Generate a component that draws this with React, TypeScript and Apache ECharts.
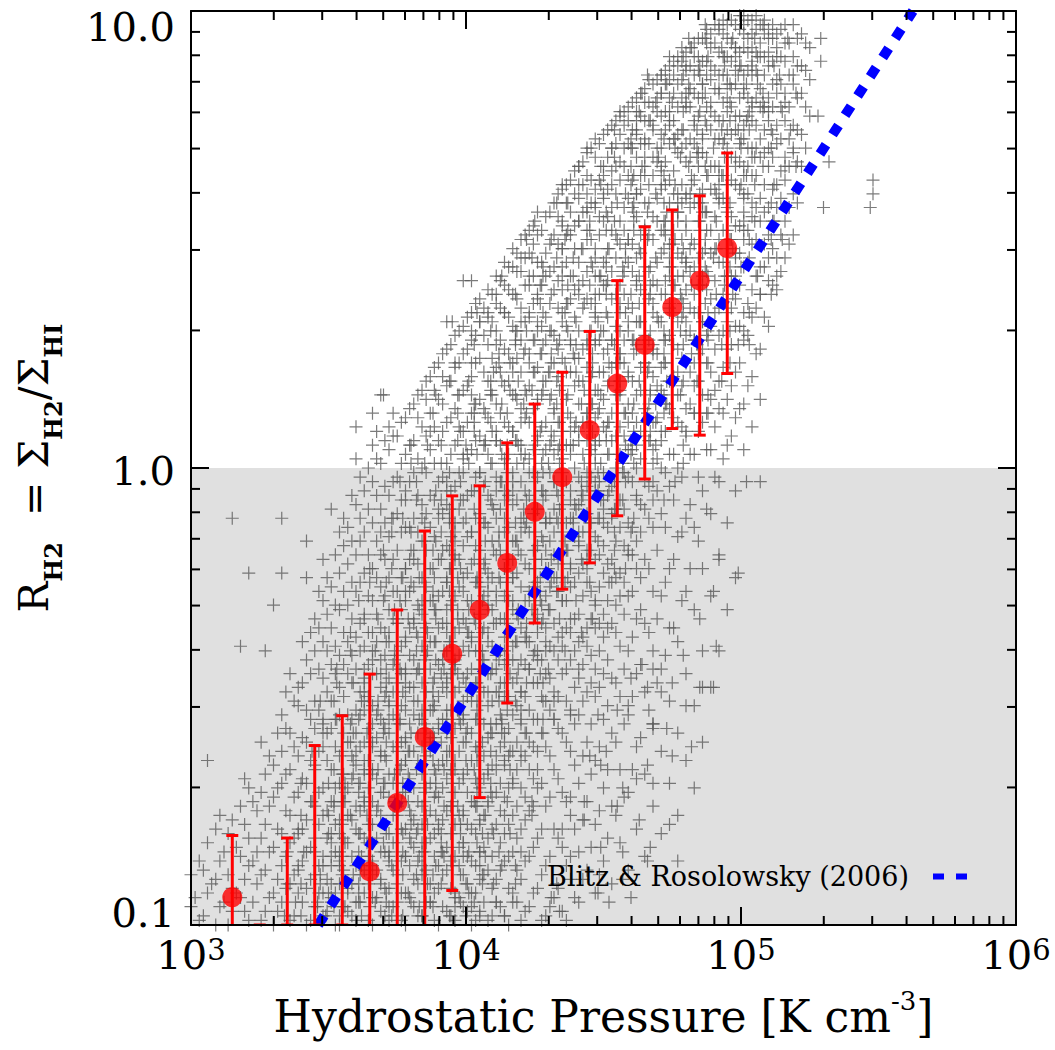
import React, { useEffect, useRef } from "react";
import * as echarts from "echarts";

// ---------------- data ----------------
// binned medians (red points) with lower / upper error bar ends
const binP = [1413, 1778, 2239, 2818, 3548, 4467, 5623, 7079, 8913, 11220, 14125, 17783, 22387, 28184, 35481, 44668, 56234, 70795, 89125];
const binMedian = [0.115, 0.085, 0.09, 0.09, 0.09, 0.131, 0.185, 0.258, 0.392, 0.489, 0.62, 0.802, 0.955, 1.21, 1.53, 1.86, 2.25, 2.57, 3.03];
const binLow = [0.06, 0.05, 0.1, 0.1, 0.1, 0.05, 0.06, 0.07, 0.119, 0.19, 0.306, 0.458, 0.543, 0.62, 0.786, 0.946, 1.22, 1.18, 1.61];
const binHigh = [0.157, 0.1, 0.155, 0.247, 0.287, 0.354, 0.489, 0.728, 0.869, 0.914, 1.135, 1.38, 1.62, 1.99, 2.57, 3.37, 3.67, 3.94, 4.89];

// Blitz & Rosolowsky (2006) relation, end points
const brP = [2900, 422000];
const brR = [0.1, 10];
const BR_NAME = "Blitz & Rosolowsky (2006)";

// grey "+" cloud, part 1: columns of log10(P)*100 with their log10(R)*100 values
const cloudLogP100 = [300, 303, 306, 309, 312, 315, 318, 321, 324, 327, 330, 333, 336, 339, 342, 345, 348, 351, 354, 357, 360, 363, 366, 369, 372, 375, 378, 381, 384, 387, 390, 393, 396, 399, 402, 405, 408, 411, 414, 417, 420, 423, 426, 429, 432, 435, 438, 441, 444, 447, 450, 453, 456, 459, 462, 465, 468, 471, 474, 477, 480, 483, 486, 489, 492, 495, 498, 501, 504, 507, 510, 513, 516, 519, 522, 525];
const cloudLogR100 = [
  [-96, -89],
  [-99, -86],
  [-93, -82, -64],
  [-100, -90, -79],
  [-95, -84],
  [-97, -92, -77, -11],
  [-94, -85, -74, -39],
  [-99, -87, -81, -70, -23],
  [-91, -84, -75],
  [-97, -88, -78, -67, -40],
  [-100, -93, -83, -72, -65, -30],
  [-95, -87, -80, -69, -62, -54, -23, -11],
  [-99, -91, -82, -76, -66, -58, -45],
  [-93, -88, -79, -71, -63, -52, -48],
  [-100, -92, -84, -77, -69, -60, -53, -42, -24, -16],
  [-96, -89, -81, -74, -65, -57, -51, -40, -33],
  [-98, -93, -85, -76, -70, -61, -56, -46, -38, -29, -20],
  [-94, -87, -80, -73, -66, -57, -51, -43, -35, -26, -9],
  [-100, -91, -86, -77, -69, -63, -54, -48, -41, -31, -23, -14],
  [-97, -92, -82, -76, -70, -60, -54, -45, -38, -30, -21, -13],
  [-99, -95, -87, -79, -74, -65, -58, -53, -44, -37, -27, -19, -8, 2],
  [-93, -88, -81, -72, -67, -60, -51, -46, -39, -32, -23, -14, -5],
  [-100, -94, -86, -82, -73, -66, -61, -52, -45, -40, -29, -22, -12, -3, 5],
  [-97, -90, -84, -76, -71, -63, -55, -48, -42, -35, -26, -19, -9, 1, 16],
  [-99, -92, -86, -80, -72, -67, -58, -52, -46, -38, -31, -24, -15, -6, 4, 9],
  [-95, -89, -82, -74, -69, -61, -56, -47, -41, -34, -27, -18, -10, -2, 7],
  [-100, -93, -85, -79, -71, -64, -59, -50, -44, -37, -29, -22, -13, -5, 3, 11],
  [-96, -90, -83, -77, -70, -62, -54, -48, -42, -33, -26, -18, -11, -1, 6, 14],
  [-98, -89, -84, -78, -67, -61, -55, -47, -39, -32, -24, -16, -8, 0, 9, 17],
  [-95, -91, -81, -75, -69, -59, -53, -44, -38, -29, -22, -13, -6, 4, 12, 20],
  [-100, -92, -87, -79, -72, -65, -57, -50, -43, -35, -28, -20, -11, -3, 6, 15, 23],
  [-97, -88, -83, -75, -68, -62, -53, -46, -40, -31, -25, -17, -8, 1, 10, 18, 26, 32],
  [-99, -94, -85, -78, -71, -64, -57, -49, -43, -36, -28, -19, -12, -4, 5, 13, 22, 29],
  [-96, -89, -82, -75, -68, -60, -54, -46, -39, -33, -24, -17, -7, 2, 8, 17, 25, 31, 41],
  [-100, -93, -86, -79, -73, -64, -58, -51, -44, -37, -29, -21, -14, -5, 4, 12, 20, 28, 34],
  [-97, -90, -84, -77, -70, -61, -55, -48, -40, -32, -26, -18, -10, -1, 7, 15, 24, 32, 37],
  [-99, -88, -81, -74, -66, -59, -52, -45, -36, -30, -23, -13, -6, 3, 11, 19, 27, 33, 39],
  [-95, -90, -78, -71, -63, -56, -49, -41, -34, -27, -19, -11, -2, 6, 14, 22, 30, 36, 42],
  [-98, -86, -80, -72, -65, -58, -50, -43, -37, -28, -22, -14, -5, 2, 10, 18, 26, 34, 40, 45],
  [-93, -84, -76, -68, -62, -54, -47, -39, -31, -24, -16, -8, -1, 8, 16, 23, 31, 38, 44, 48],
  [-99, -90, -79, -70, -64, -56, -49, -42, -35, -26, -19, -11, -3, 5, 13, 21, 28, 35, 43, 50],
  [-96, -85, -75, -66, -60, -53, -44, -38, -29, -22, -14, -6, 2, 10, 18, 25, 33, 40, 47, 52],
  [-92, -81, -70, -62, -55, -47, -40, -32, -25, -17, -9, -2, 7, 15, 22, 30, 37, 45, 51, 56],
  [-98, -87, -74, -61, -51, -45, -35, -28, -22, -12, -6, 4, 10, 19, 28, 33, 42, 47, 55],
  [-94, -79, -66, -55, -49, -40, -34, -24, -19, -9, -3, 7, 13, 23, 29, 39, 44, 51, 58],
  [-97, -83, -71, -58, -45, -39, -29, -24, -14, -8, 2, 8, 18, 24, 34, 39, 48, 53, 61],
  [-90, -76, -62, -53, -42, -36, -26, -21, -11, -5, 5, 11, 21, 27, 37, 42, 51, 56, 63],
  [-95, -84, -69, -54, -46, -38, -32, -23, -17, -8, -2, 8, 14, 24, 30, 40, 45, 54, 59, 66],
  [-88, -73, -60, -49, -39, -35, -25, -20, -10, -4, 6, 12, 22, 28, 37, 43, 52, 57, 64, 69],
  [-93, -78, -64, -50, -44, -35, -30, -20, -15, -5, 1, 11, 17, 27, 33, 42, 48, 57, 61, 68, 72],
  [-86, -70, -55, -45, -37, -32, -23, -17, -7, -1, 9, 15, 25, 30, 40, 45, 54, 59, 66, 73],
  [-91, -74, -58, -46, -34, -25, -20, -10, -4, 6, 12, 22, 28, 37, 43, 52, 57, 65, 70, 75],
  [-82, -66, -50, -39, -28, -23, -13, -7, 3, 9, 19, 25, 34, 40, 49, 54, 63, 67, 73, 77],
  [-88, -71, -54, -40, -28, -19, -12, -2, 4, 14, 20, 30, 36, 45, 50, 59, 64, 71, 76, 79],
  [-79, -61, -45, -33, -22, -16, -6, 0, 10, 16, 26, 32, 41, 46, 55, 60, 68, 73, 78, 81],
  [-85, -67, -49, -34, -20, -9, -3, 7, 13, 23, 29, 38, 44, 53, 58, 66, 71, 76, 80, 83],
  [-74, -56, -40, -27, -13, -7, 4, 10, 20, 26, 36, 41, 50, 55, 64, 68, 75, 79, 84],
  [-80, -62, -44, -28, -10, 0, 6, 16, 22, 32, 38, 47, 52, 61, 65, 73, 77, 82, 86],
  [-69, -51, -35, -22, -4, 3, 13, 19, 29, 35, 44, 49, 58, 63, 71, 75, 81, 85, 88],
  [-76, -58, -38, -15, 0, 10, 16, 26, 32, 42, 47, 56, 60, 69, 73, 79, 84, 88, 90],
  [-64, -45, -27, -11, 7, 13, 23, 29, 39, 45, 54, 59, 67, 71, 79, 82, 87, 91],
  [-70, -52, -31, -13, 3, 12, 18, 28, 34, 44, 49, 58, 63, 71, 75, 82, 86, 90, 93],
  [-60, -40, -22, -5, 10, 16, 26, 32, 42, 47, 56, 61, 69, 73, 81, 84, 89, 94],
  [-48, -28, -10, 4, 15, 21, 31, 37, 47, 52, 61, 66, 74, 78, 85, 88, 92, 95],
  [-40, -19, -3, 13, 19, 29, 35, 45, 50, 59, 64, 72, 76, 83, 86, 91, 96],
  [-31, -12, 5, 15, 26, 32, 42, 48, 57, 62, 70, 74, 81, 84, 90, 94, 97],
  [-24, -5, 11, 21, 31, 37, 47, 53, 62, 66, 74, 77, 84, 87, 92, 97],
  [4, 14, 28, 34, 44, 50, 59, 64, 72, 75, 83, 86, 92, 95, 99],
  [9, 20, 33, 39, 49, 55, 64, 68, 76, 79, 86, 89, 95, 98],
  [15, 26, 38, 44, 54, 59, 68, 72, 79, 83, 90, 93, 97],
  [31, 41, 51, 57, 66, 70, 78, 81, 88, 91, 96],
  [39, 46, 57, 62, 71, 75, 82, 85, 92, 95],
  [46, 54, 63, 68, 76, 80, 89, 93],
  [51, 60, 69, 75, 84, 90, 97],
  [66, 73, 82, 88, 95],
  [77, 85, 92],
];
// part 2: columns lying between the first ones
const cloudLogP100B = [301.5, 304.5, 307.5, 310.5, 313.5, 316.5, 319.5, 322.5, 325.5, 328.5, 331.5, 334.5, 337.5, 340.5, 343.5, 346.5, 349.5, 352.5, 355.5, 358.5, 361.5, 364.5, 367.5, 370.5, 373.5, 376.5, 379.5, 382.5, 385.5, 388.5, 391.5, 394.5, 397.5, 400.5, 403.5, 406.5, 409.5, 412.5, 415.5, 418.5, 421.5, 424.5, 427.5, 430.5, 433.5, 436.5, 439.5, 442.5, 445.5, 448.5, 451.5, 454.5, 457.5, 460.5, 463.5, 466.5, 469.5, 472.5, 475.5, 478.5, 481.5, 484.5, 487.5, 490.5, 493.5, 496.5, 499.5, 502.5, 505.5, 508.5, 511.5, 514.5, 517.5, 520.5, 523.5];
const cloudLogR100B = [
  [-94],
  [-98, -88],
  [-91],
  [-96, -86, -76],
  [-100, -89, -80],
  [-93, -83],
  [-97, -90, -78, -68],
  [-95, -86, -73],
  [-99, -89, -81, -71, -60],
  [-94, -84, -74, -63],
  [-97, -90, -79, -70, -58],
  [-92, -85, -75, -67, -57, -49],
  [-98, -89, -81, -72, -61, -51],
  [-95, -86, -79, -68, -59, -47, -38],
  [-99, -90, -83, -73, -64, -55, -45, -36],
  [-93, -87, -78, -71, -62, -53, -44, -35, -27],
  [-97, -90, -81, -75, -64, -58, -49, -40, -32, -24],
  [-100, -93, -84, -78, -70, -61, -55, -45, -39, -30, -19],
  [-96, -88, -81, -73, -67, -58, -50, -43, -36, -27, -17, -11],
  [-98, -91, -85, -77, -68, -63, -55, -47, -41, -33, -25, -16, -6],
  [-95, -89, -80, -75, -69, -61, -54, -49, -40, -34, -25, -16, -11, -2],
  [-99, -91, -85, -78, -70, -64, -57, -50, -43, -36, -28, -19, -9, 0],
  [-94, -88, -81, -75, -68, -59, -54, -45, -38, -32, -24, -16, -6, 2, 8],
  [-98, -92, -84, -78, -69, -63, -57, -50, -41, -36, -28, -20, -12, -4, 6],
  [-96, -88, -82, -76, -69, -61, -54, -49, -43, -33, -27, -20, -11, -3, 7, 12],
  [-99, -93, -86, -79, -73, -65, -60, -52, -45, -39, -31, -24, -14, -7, 1, 10],
  [-94, -87, -81, -75, -68, -62, -56, -48, -41, -35, -27, -20, -13, -3, 5, 13],
  [-98, -91, -86, -79, -73, -64, -58, -51, -44, -37, -30, -21, -14, -6, 2, 11, 16],
  [-95, -88, -82, -76, -70, -63, -57, -49, -41, -35, -26, -18, -10, -1, 7, 15, 19],
  [-99, -93, -85, -80, -72, -66, -59, -52, -46, -38, -31, -24, -15, -7, 1, 9, 17, 22],
  [-96, -89, -84, -77, -70, -64, -55, -48, -42, -34, -27, -18, -10, -2, 8, 14, 20, 25],
  [-98, -92, -86, -80, -74, -66, -59, -53, -45, -38, -30, -22, -15, -5, 3, 11, 19, 27],
  [-94, -87, -83, -76, -69, -62, -55, -48, -41, -35, -26, -20, -9, -1, 9, 16, 23, 30],
  [-97, -91, -85, -78, -71, -66, -57, -50, -45, -36, -29, -23, -15, -6, 3, 10, 18, 26, 33],
  [-99, -93, -87, -80, -74, -68, -61, -55, -47, -40, -34, -25, -17, -11, -2, 6, 14, 23, 29, 36],
  [-95, -89, -83, -76, -68, -63, -56, -49, -42, -35, -28, -21, -12, -4, 5, 13, 21, 29, 35],
  [-98, -92, -85, -79, -72, -65, -58, -51, -44, -39, -31, -24, -16, -8, 1, 8, 16, 24, 32, 38],
  [-96, -88, -82, -75, -69, -61, -54, -47, -40, -33, -25, -18, -9, -3, 5, 12, 21, 28, 35, 41],
  [-100, -92, -85, -78, -70, -63, -57, -50, -42, -36, -29, -20, -13, -6, 3, 9, 19, 25, 33, 39, 44],
  [-95, -88, -81, -74, -66, -60, -52, -46, -38, -32, -23, -16, -7, 1, 6, 15, 24, 30, 37, 43, 47],
  [-97, -86, -77, -72, -63, -58, -50, -43, -37, -29, -21, -13, -5, 3, 11, 17, 26, 32, 40, 46, 51],
  [-93, -83, -74, -68, -61, -55, -47, -41, -33, -26, -18, -10, -1, 4, 13, 21, 28, 36, 42, 49, 53],
  [-99, -89, -79, -69, -58, -50, -42, -34, -30, -20, -15, -5, 1, 9, 16, 25, 31, 40, 45, 52],
  [-96, -85, -72, -63, -53, -46, -39, -31, -26, -16, -11, -1, 5, 15, 21, 30, 36, 43, 49, 56],
  [-92, -81, -68, -57, -50, -42, -37, -27, -21, -12, -6, 4, 10, 20, 26, 35, 41, 49, 55, 60],
  [-99, -87, -73, -60, -51, -44, -35, -29, -18, -12, -3, 5, 15, 21, 31, 36, 45, 51, 58, 62],
  [-94, -79, -65, -56, -48, -40, -33, -25, -15, -8, 0, 9, 18, 24, 33, 39, 48, 53, 60, 65],
  [-90, -77, -63, -51, -43, -37, -28, -21, -14, -6, 3, 10, 19, 26, 35, 41, 48, 56, 62, 67],
  [-83, -67, -56, -47, -41, -33, -27, -18, -12, -2, 4, 14, 20, 30, 36, 45, 50, 58, 63, 70],
  [-89, -75, -61, -48, -40, -34, -26, -19, -11, -3, 6, 13, 21, 28, 38, 42, 51, 55, 63, 71],
  [-81, -66, -52, -42, -35, -29, -21, -13, -6, 3, 10, 18, 26, 33, 41, 48, 55, 61, 68, 74],
  [-76, -60, -47, -36, -30, -24, -16, -9, 0, 7, 16, 23, 31, 38, 46, 51, 60, 66, 71, 76],
  [-72, -56, -44, -32, -25, -17, -9, -1, 7, 12, 23, 28, 38, 43, 52, 57, 66, 70, 75, 78],
  [-66, -50, -37, -27, -19, -13, -3, 4, 12, 19, 28, 35, 43, 49, 57, 63, 70, 74, 80],
  [-59, -43, -31, -24, -14, -8, 2, 8, 17, 22, 32, 39, 47, 51, 61, 64, 71, 77, 82],
  [-53, -36, -22, -11, -4, 6, 14, 22, 28, 37, 43, 51, 58, 62, 71, 76, 80, 85],
  [-47, -33, -18, -5, 2, 11, 18, 25, 33, 40, 45, 54, 59, 67, 70, 78, 81, 85],
  [-41, -25, -13, -1, 8, 14, 23, 28, 38, 41, 51, 54, 62, 67, 74, 78, 84, 87],
  [-35, -20, -7, 3, 11, 20, 27, 34, 40, 49, 52, 60, 65, 72, 76, 82, 86, 89],
  [-29, -14, -2, 9, 18, 24, 33, 37, 46, 50, 58, 62, 70, 74, 81, 85, 89, 92],
  [-22, -8, 3, 14, 21, 30, 35, 43, 48, 57, 60, 68, 72, 79, 83, 88, 92],
  [-16, -2, 8, 19, 25, 34, 40, 46, 54, 58, 66, 69, 77, 81, 87, 90, 94],
  [-9, 4, 12, 23, 29, 39, 43, 52, 56, 64, 68, 75, 79, 86, 89, 93, 96],
  [-2, 9, 17, 26, 34, 41, 48, 55, 61, 66, 72, 77, 83, 87, 93, 97],
  [2, 12, 22, 30, 38, 45, 52, 59, 64, 71, 76, 80, 86, 90, 95, 98],
  [7, 18, 27, 35, 42, 50, 55, 63, 68, 73, 79, 83, 89, 93, 98],
  [13, 23, 31, 40, 47, 53, 61, 67, 71, 77, 81, 88, 91, 96, 99],
  [18, 29, 36, 45, 52, 60, 66, 70, 77, 81, 87, 91, 94, 98],
  [25, 35, 42, 50, 57, 64, 70, 75, 81, 87, 91, 96, 99],
  [33, 44, 49, 56, 62, 69, 74, 79, 86, 90, 95, 98],
  [40, 48, 54, 61, 68, 73, 79, 84, 89, 94, 97],
  [43, 51, 59, 65, 72, 79, 84, 90, 96],
  [49, 57, 66, 72, 79, 86, 93],
  [58, 67, 74, 81, 88, 94],
  [70, 79, 87, 93],
];
// part 3: rows of log10(R)*100 with their log10(P)*100 values (dense band)
const cloudRowLogR100 = [-98, -95, -91, -87, -84, -80, -76, -73, -69, -66, -62, -58, -55, -51, -47, -44, -40, -36, -33, -29, -25, -22, -18, -14, -11, -7, -3, 1, 5, 8, 12, 16, 19, 23, 27, 30, 34, 38, 42, 46, 50, 54, 58, 62, 66, 70, 74, 78, 82, 86, 90, 94, 97];
const cloudRowLogP100 = [
  [334, 340, 349, 354, 362, 373, 377, 384, 394, 400, 405, 414],
  [338, 346, 351, 361, 367, 371, 380, 387, 398, 403, 411, 417],
  [335, 340, 347, 351, 361, 369, 375, 386, 391, 400, 406, 410, 418],
  [339, 348, 354, 362, 366, 373, 384, 389, 395, 405, 413, 418],
  [335, 341, 345, 354, 361, 372, 377, 385, 391, 401, 405, 412, 420],
  [339, 350, 354, 361, 371, 377, 382, 391, 398, 406, 410, 416],
  [340, 350, 358, 364, 375, 380, 389, 395, 399, 407, 414, 424],
  [344, 352, 356, 363, 374, 379, 385, 395, 403, 408, 415, 424],
  [340, 350, 356, 361, 370, 377, 385, 389, 395, 404, 409, 417],
  [345, 352, 363, 368, 376, 382, 392, 396, 403, 411, 416, 426],
  [344, 355, 360, 369, 375, 379, 387, 394, 404, 409, 416, 420],
  [348, 359, 364, 370, 380, 388, 393, 400, 409, 413, 422, 428],
  [348, 353, 361, 372, 376, 383, 393, 399, 404, 413, 420, 428, 432],
  [347, 352, 362, 368, 372, 381, 388, 399, 404, 412, 418, 428, 432],
  [353, 359, 363, 371, 378, 388, 393, 400, 404, 414, 422, 428],
  [353, 363, 371, 376, 383, 392, 396, 405, 411, 419, 423, 430, 441],
  [358, 367, 374, 382, 386, 392, 401, 406, 414, 425, 429, 436],
  [358, 366, 372, 382, 386, 393, 401, 406, 416, 422, 426, 435, 442],
  [363, 368, 375, 379, 389, 397, 403, 414, 419, 428, 434, 438, 446],
  [361, 370, 376, 384, 388, 395, 406, 411, 417, 427, 435, 440, 447],
  [365, 371, 380, 385, 393, 404, 408, 415, 425, 431, 436, 445, 452],
  [365, 373, 378, 388, 394, 398, 407, 414, 425, 430, 438, 444, 454, 458],
  [370, 380, 388, 394, 405, 410, 419, 425, 429, 437, 444, 454, 459],
  [369, 373, 380, 391, 396, 402, 412, 420, 425, 432, 441, 445, 454, 460],
  [373, 377, 384, 394, 400, 405, 414, 421, 429, 433, 439, 448, 453, 461],
  [378, 382, 391, 398, 409, 414, 422, 428, 438, 442, 449, 457, 462, 472],
  [376, 382, 393, 398, 407, 413, 417, 425, 432, 442, 447, 454, 458, 468, 476],
  [380, 385, 391, 401, 409, 414, 421, 430, 434, 443, 449, 457, 461, 468, 479],
  [380, 386, 391, 400, 407, 415, 419, 425, 434, 439, 447, 458, 462, 469, 479],
  [387, 398, 403, 411, 417, 427, 431, 438, 446, 451, 461, 467, 471, 480],
  [388, 397, 403, 407, 415, 422, 432, 437, 444, 448, 458, 466, 472, 483, 488],
  [389, 397, 402, 409, 418, 422, 431, 437, 445, 449, 456, 467, 472, 478, 488],
  [394, 401, 409, 413, 419, 428, 433, 441, 452, 456, 463, 473, 479, 484, 493],
  [396, 402, 412, 416, 423, 431, 436, 446, 452, 456, 465, 472, 483, 488, 496],
  [403, 411, 418, 428, 433, 440, 444, 454, 462, 468, 479, 484, 493, 499, 503],
  [402, 409, 418, 422, 431, 437, 445, 449, 456, 467, 472, 478, 488, 496, 501],
  [404, 408, 414, 423, 428, 436, 447, 451, 458, 468, 474, 479, 488, 495, 503],
  [411, 418, 426, 431, 441, 447, 451, 460, 467, 478, 483, 491, 497, 507, 511],
  [413, 423, 428, 435, 439, 449, 457, 463, 474, 479, 488, 494, 498, 506, 513],
  [420, 424, 433, 439, 447, 451, 458, 469, 474, 480, 490, 498, 503, 510],
  [422, 431, 436, 444, 455, 459, 466, 476, 482, 487, 496, 503, 511, 515],
  [425, 435, 441, 445, 454, 461, 472, 477, 485, 491, 501, 505, 512],
  [433, 437, 447, 455, 461, 472, 477, 486, 492, 496, 504, 511],
  [435, 441, 449, 453, 460, 471, 476, 482, 492, 500, 505, 512],
  [441, 449, 460, 464, 471, 481, 487, 492, 501, 508, 516, 520],
  [444, 453, 460, 471, 476, 484, 490, 500, 504, 511, 519],
  [454, 462, 468, 479, 484, 493, 499, 503, 511, 518],
  [456, 463, 474, 479, 485, 495, 503, 508, 515],
  [464, 471, 481, 487, 492, 501, 508, 516, 520],
  [466, 471, 479, 485, 495, 499, 506, 514, 519],
  [474, 479, 488, 494, 498, 506, 513],
  [481, 487, 497, 505, 510, 517],
  [487, 492, 501, 508, 516],
];
// part 4: more rows through the densest middle of the band
const cloudCoreLogR100 = [-96, -93, -89, -85, -82, -78, -74, -71, -67, -64, -60, -56, -53, -49, -45, -42, -38, -34, -31, -27, -24, -20, -16, -12, -9, -5, -1, 3, 6, 10, 14, 17, 21, 25, 28, 32, 36, 40, 44, 48, 52, 56, 60, 64, 68, 72, 76, 80, 84, 88, 92];
const cloudCoreLogP100 = [
  [346, 352, 356, 365, 372, 383, 388, 396, 402],
  [350, 357, 361, 371, 379, 385, 396, 401],
  [347, 355, 359, 366, 377, 382, 388, 398, 406],
  [351, 355, 362, 372, 378, 383, 392, 399, 407],
  [351, 356, 364, 370, 380, 384, 391, 399, 404],
  [355, 366, 371, 380, 386, 390, 398, 405],
  [352, 363, 368, 374, 384, 392, 397, 404],
  [356, 361, 370, 377, 385, 389, 395, 404, 409],
  [355, 359, 366, 374, 379, 389, 395, 399, 408],
  [359, 363, 371, 378, 388, 393, 400, 404, 414],
  [358, 366, 371, 378, 387, 391, 400, 406, 414],
  [358, 366, 370, 376, 385, 390, 398, 409, 413],
  [363, 368, 378, 384, 388, 397, 404, 415, 420],
  [363, 371, 377, 388, 393, 402, 408, 412, 420],
  [369, 378, 382, 391, 397, 405, 409, 416, 427],
  [366, 374, 385, 389, 396, 406, 412, 417, 426],
  [371, 378, 389, 394, 402, 408, 418, 422, 429],
  [375, 381, 385, 393, 400, 410, 415, 422, 426],
  [374, 383, 389, 397, 401, 408, 419, 424, 430],
  [378, 388, 394, 399, 408, 415, 423, 427, 433],
  [377, 383, 393, 397, 404, 412, 417, 427, 433, 437],
  [381, 391, 396, 403, 407, 417, 425, 431, 442],
  [385, 389, 396, 407, 412, 418, 428, 436, 441, 448],
  [385, 394, 399, 407, 418, 422, 429, 439, 445, 450],
  [390, 394, 403, 410, 421, 426, 434, 440, 450, 454],
  [389, 393, 403, 411, 417, 428, 433, 442, 448, 452],
  [394, 399, 405, 415, 423, 428, 435, 444, 448, 457],
  [399, 404, 413, 420, 428, 432, 438, 447, 452, 460],
  [397, 407, 411, 418, 426, 431, 441, 447, 451, 460, 467],
  [403, 409, 420, 425, 434, 440, 444, 452, 459, 469],
  [403, 413, 421, 426, 433, 442, 446, 455, 461, 469, 473],
  [409, 416, 424, 428, 434, 443, 448, 456, 467, 471],
  [410, 417, 425, 430, 440, 446, 450, 459, 466, 477],
  [412, 421, 427, 431, 439, 446, 456, 461, 468, 472, 482],
  [418, 425, 434, 438, 447, 453, 461, 465, 472, 483, 488],
  [420, 426, 435, 440, 448, 459, 463, 470, 480, 486],
  [427, 437, 443, 447, 456, 463, 474, 479, 487],
  [427, 437, 445, 451, 462, 467, 476, 482, 486, 494],
  [428, 435, 446, 451, 457, 467, 475, 480, 487, 496, 500],
  [435, 442, 452, 458, 463, 472, 479, 487, 491, 497],
  [437, 445, 451, 461, 465, 472, 480, 485, 495, 501],
  [444, 451, 461, 466, 473, 477, 487, 495, 501],
  [444, 450, 458, 462, 469, 480, 485, 491, 501],
  [450, 461, 465, 472, 482, 488, 493, 502],
  [454, 465, 470, 478, 484, 494, 498, 505],
  [460, 465, 472, 476, 486, 494, 500],
  [462, 467, 474, 483, 487, 496, 502, 510],
  [469, 475, 480, 489, 496, 504, 508],
  [473, 481, 486, 496, 502, 506],
  [480, 485, 494, 500, 504, 512],
  [482, 493, 498, 504],
];
// scattered outliers, [log10(P)*100, log10(R)*100]
const cloudOutliers100 = [
  [502, -3], [507, -3], [499, -23], [492, -20], [490, -27], [485, -33], [491, -39], [490, -48],
  [485, -48], [479, -41], [480, -52], [471, -49], [473, -57], [468, -57], [482, -61], [475, -63],
  [466, -65], [468, -69], [462, -68], [457, -70], [449, -65], [451, -62], [445, -63], [443, -73],
  [438, -72], [435, -79], [443, -77], [455, -74], [463, -77], [474, -78], [467, -83], [457, -84],
  [449, -83], [438, -85], [477, -86], [466, -86], [457, -90], [448, -93], [452, -95], [460, -94],
  [433, -91], [431, -94], [434, -97], [464, -43], [468, -44], [460, -46], [466, -48], [475, -47],
  [486, -48], [459, -52], [455, -53], [448, -54], [438, -54], [468, -56],
  [529, 94], [529, 89], [530, 57], [528, 77], [532, 67], [548, 63], [548, 60], [547, 57],
  [402, 41], [395, 32], [405, 32], [370, 16], [360, 9], [366, 12],
];

// axis ticks
const xMajorTicks = [1e3, 1e4, 1e5, 1e6];
const xMinorTicks = [2e3, 3e3, 4e3, 5e3, 6e3, 7e3, 8e3, 9e3, 2e4, 3e4, 4e4, 5e4, 6e4, 7e4, 8e4, 9e4, 2e5, 3e5, 4e5, 5e5, 6e5, 7e5, 8e5, 9e5];
const yMajorTicks = [0.1, 1, 10];
const yMinorTicks = [0.2, 0.3, 0.4, 0.5, 0.6, 0.7, 0.8, 0.9, 2, 3, 4, 5, 6, 7, 8, 9];

const FONT = '"DejaVu Serif", serif';

export default function App() {
  const ref = useRef<HTMLDivElement>(null);

  useEffect(() => {
    if (!ref.current) return;
    const chart = echarts.init(ref.current, undefined, { renderer: "svg" });

    const cloud: number[][] = [];
    const pt = (p: number, r: number) => cloud.push([Math.pow(10, p / 100), Math.pow(10, r / 100)]);
    cloudLogP100.forEach((p, i) => cloudLogR100[i].forEach((r) => pt(p, r)));
    cloudLogP100B.forEach((p, i) => cloudLogR100B[i].forEach((r) => pt(p, r)));
    cloudRowLogR100.forEach((r, i) => cloudRowLogP100[i].forEach((p) => pt(p, r)));
    cloudCoreLogR100.forEach((r, i) => cloudCoreLogP100[i].forEach((p) => pt(p, r)));
    cloudOutliers100.forEach(([p, r]) => pt(p, r));

    const errData = binP.map((p, i) => [p, binLow[i], binHigh[i]]);
    const medData = binP.map((p, i) => [p, binMedian[i]]);
    const brData = brP.map((p, i) => [p, brR[i]]);

    const tickData: number[][] = [];
    xMajorTicks.forEach((v) => tickData.push([v, 1, 0, 1]));
    xMinorTicks.forEach((v) => tickData.push([v, 1, 0, 0]));
    yMajorTicks.forEach((v) => tickData.push([1e4, v, 1, 1]));
    yMinorTicks.forEach((v) => tickData.push([1e4, v, 1, 0]));

    const red = "#ff0000";

    const option: any = {
      animation: false,
      backgroundColor: "#ffffff",
      grid: { left: 191, top: 11, right: 39, bottom: 125, outerBoundsMode: "none", containLabel: false },
      legend: {
        data: [BR_NAME],
        right: 80,
        top: 858,
        align: "right",
        itemWidth: 34,
        itemHeight: 14,
        textStyle: { fontFamily: FONT, fontSize: 27, color: "#000", padding: [0, 19, 0, 0] },
        lineStyle: { width: 6, type: [11, 12], cap: "butt" },
        itemStyle: { color: "rgba(0,0,0,0)", borderWidth: 0, opacity: 0 },
        z: 4,
      },
      xAxis: [
        {
          type: "log",
          logBase: 10,
          min: 1e3,
          max: 1e6,
          z: 7,
          axisLine: { show: true, onZero: false, lineStyle: { color: "#000", width: 2 } },
          axisTick: { show: false },
          splitLine: { show: false },
          axisLabel: {
            margin: 10,
            formatter: (v: number) => `{b|10}{s|${Math.round(Math.log10(v))}}`,
            rich: {
              b: { fontFamily: FONT, fontSize: 40, lineHeight: 40, color: "#000", verticalAlign: "bottom", padding: [14, 0, 0, 0] },
              s: { fontFamily: FONT, fontSize: 29, lineHeight: 30, color: "#000", verticalAlign: "top" },
            },
          },
          name: "{a|Hydrostatic Pressure [K cm}{s|-3}{a|]}",
          nameLocation: "middle",
          nameGap: 63,
          nameTextStyle: {
            rich: {
              a: { fontFamily: FONT, fontSize: 44, lineHeight: 50, color: "#000", verticalAlign: "bottom", padding: [8, 0, 0, 0] },
              s: { fontFamily: FONT, fontSize: 26, lineHeight: 26, color: "#000", verticalAlign: "top" },
            },
          },
        },
        {
          type: "log",
          logBase: 10,
          min: 1e3,
          max: 1e6,
          position: "top",
          z: 7,
          axisLine: { show: true, onZero: false, lineStyle: { color: "#000", width: 2 } },
          axisTick: { show: false },
          axisLabel: { show: false },
          splitLine: { show: false },
        },
      ],
      yAxis: [
        {
          type: "log",
          logBase: 10,
          min: 0.1,
          max: 10,
          z: 7,
          axisLine: { show: true, onZero: false, lineStyle: { color: "#000", width: 2 } },
          axisTick: { show: false },
          splitLine: { show: false },
          axisLabel: {
            margin: 16,
            formatter: (v: number) => {
              const k = v > 5 ? "t" : v > 0.5 ? "m" : "l";
              return `{${k}|${v.toFixed(1)}}`;
            },
            rich: {
              t: { fontFamily: FONT, fontSize: 40, lineHeight: 40, color: "#000", padding: [32, 0, 0, 0] },
              m: { fontFamily: FONT, fontSize: 40, lineHeight: 40, color: "#000", padding: [6, 0, 0, 0] },
              l: { fontFamily: FONT, fontSize: 40, lineHeight: 40, color: "#000", padding: [0, 0, 24, 0] },
            },
          },
          name: "{a|R}{b|H2}{a|  = Σ}{b|H2}{a|/Σ}{b|HI}",
          nameLocation: "middle",
          nameRotate: 90,
          nameGap: 126,
          nameTextStyle: {
            rich: {
              a: { fontFamily: FONT, fontSize: 41, lineHeight: 52, color: "#000", verticalAlign: "top" },
              b: { fontFamily: FONT, fontSize: 24, lineHeight: 26, color: "#000", verticalAlign: "bottom", fontWeight: "bold" },
            },
          },
        },
        {
          type: "log",
          logBase: 10,
          min: 0.1,
          max: 10,
          position: "right",
          z: 7,
          axisLine: { show: true, onZero: false, lineStyle: { color: "#000", width: 2 } },
          axisTick: { show: false },
          axisLabel: { show: false },
          splitLine: { show: false },
        },
      ],
      series: [
        {
          name: "cloud",
          type: "scatter",
          data: cloud,
          symbol: "path://M0,6L12,6M6,0L6,12",
          symbolSize: 13,
          silent: true,
          itemStyle: { color: "none", borderColor: "#5a5a5a", borderWidth: 1.2 },
          z: 1,
        },
        {
          name: BR_NAME,
          type: "line",
          data: brData,
          symbol: "none",
          showSymbol: false,
          silent: true,
          clip: true,
          lineStyle: { color: "#0000ff", width: 10, type: [11, 12], cap: "butt" },
          itemStyle: { color: "#0000ff" },
          z: 2,
        },
        {
          name: "errors",
          type: "custom",
          data: errData,
          encode: { x: 0, y: [1, 2] },
          clip: true,
          silent: true,
          z: 3,
          renderItem: (params: any, api: any) => {
            const x = api.value(0);
            const lo = api.coord([x, api.value(1)]);
            const hi = api.coord([x, api.value(2)]);
            const h = 6;
            const st = { stroke: red, lineWidth: 3 };
            return {
              type: "group",
              children: [
                { type: "line", shape: { x1: lo[0], y1: lo[1], x2: hi[0], y2: hi[1] }, style: st },
                { type: "line", shape: { x1: lo[0] - h, y1: lo[1], x2: lo[0] + h, y2: lo[1] }, style: st },
                { type: "line", shape: { x1: hi[0] - h, y1: hi[1], x2: hi[0] + h, y2: hi[1] }, style: st },
              ],
            };
          },
        },
        {
          name: "medians",
          type: "scatter",
          data: medData,
          symbol: "circle",
          symbolSize: 20,
          silent: true,
          itemStyle: { color: red },
          z: 4,
        },
        {
          name: "overlay",
          type: "line",
          data: [],
          silent: true,
          z: 5,
          markArea: {
            silent: true,
            itemStyle: { color: "rgba(153,153,153,0.3)" },
            data: [[{ xAxis: 1e3, yAxis: 0.1 }, { xAxis: 1e6, yAxis: 1 }]],
          },
        },
        {
          name: "ticks",
          type: "custom",
          data: tickData,
          encode: { x: 0, y: 1 },
          silent: true,
          z: 6,
          renderItem: (params: any, api: any) => {
            const cs = params.coordSys;
            const isY = api.value(2) === 1;
            const len = api.value(3) === 1 ? 18 : 9;
            const st = { stroke: "#000", lineWidth: 2 };
            if (!isY) {
              const px = api.coord([api.value(0), 1])[0];
              return {
                type: "group",
                children: [
                  { type: "line", shape: { x1: px, y1: cs.y + cs.height, x2: px, y2: cs.y + cs.height - len }, style: st },
                  { type: "line", shape: { x1: px, y1: cs.y, x2: px, y2: cs.y + len }, style: st },
                ],
              };
            }
            const py = api.coord([1e4, api.value(1)])[1];
            return {
              type: "group",
              children: [
                { type: "line", shape: { x1: cs.x, y1: py, x2: cs.x + len, y2: py }, style: st },
                { type: "line", shape: { x1: cs.x + cs.width, y1: py, x2: cs.x + cs.width - len, y2: py }, style: st },
              ],
            };
          },
        },
      ],
    };

    chart.setOption(option);
    return () => chart.dispose();
  }, []);

  return <div ref={ref} style={{ position: "absolute", left: 0, top: 0, width: 1055, height: 1050 }} />;
}
